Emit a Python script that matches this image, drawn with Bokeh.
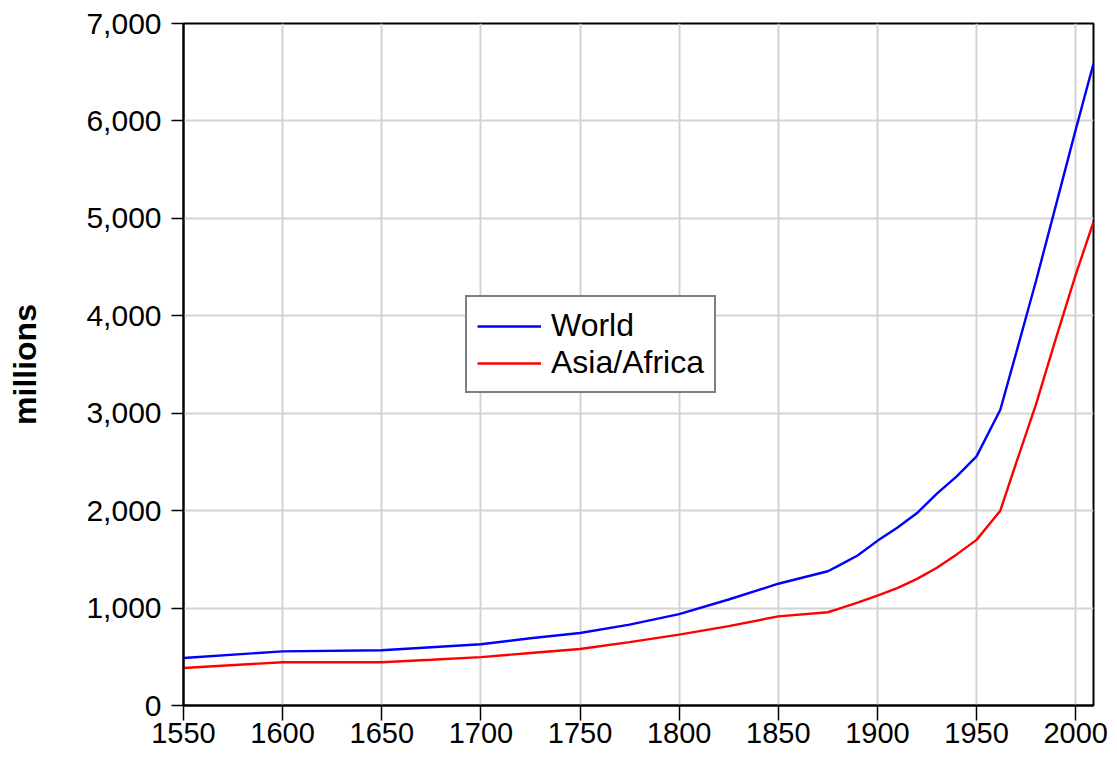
from bokeh.plotting import figure
from bokeh.models import (Range1d, Legend, LegendItem, NumeralTickFormatter,
                          FixedTicker)
from bokeh.embed import file_html
from bokeh.resources import INLINE

# ---- data (millions) ----
years = [1550, 1600, 1650, 1675, 1700, 1725, 1750, 1775, 1800, 1825, 1850,
         1875, 1880, 1890, 1900, 1910, 1920, 1930, 1940, 1950, 1962, 1970,
         1980, 1990, 2000, 2009]
world = [488, 556, 567, 598, 628, 690, 744, 830, 938, 1088, 1250,
         1378, 1430, 1540, 1690, 1825, 1975, 2174, 2352, 2557, 3036, 3620,
         4357, 5131, 5908, 6590]
asia_africa = [385, 444, 444, 470, 497, 539, 580, 650, 727, 815, 915,
               957, 990, 1055, 1128, 1205, 1300, 1414, 1551, 1700, 2000, 2490,
               3090, 3765, 4420, 4963]
x_ticks = [1550, 1600, 1650, 1700, 1750, 1800, 1850, 1900, 1950, 2000]
y_ticks = [0, 1000, 2000, 3000, 4000, 5000, 6000, 7000]

FONT = "Liberation Sans"

p = figure(width=1116, height=758,
           x_range=Range1d(1550, 2009), y_range=Range1d(0, 7000),
           output_backend="svg", toolbar_location=None,
           min_border_left=183, min_border_top=23, min_border_right=23,
           min_border_bottom=53)

p.background_fill_color = "white"
p.border_fill_color = "white"
p.outline_line_color = "black"
p.outline_line_width = 2

r1 = p.line(years, world, line_color="#0000FF", line_width=2.4)
r2 = p.line(years, asia_africa, line_color="#FF0000", line_width=2.4)

# axes
p.xaxis.ticker = FixedTicker(ticks=x_ticks)
p.yaxis.ticker = FixedTicker(ticks=y_ticks)
p.yaxis.formatter = NumeralTickFormatter(format="0,0")
for ax in (p.xaxis[0], p.yaxis[0]):
    ax.axis_line_color = "black"
    ax.axis_line_width = 2
    ax.major_tick_line_color = "black"
    ax.major_tick_line_width = 1.5
    ax.major_tick_in = 0
    ax.minor_tick_line_color = None
    ax.major_label_text_font = FONT
    ax.major_label_text_color = "black"
p.xaxis.major_label_text_font_size = "29px"
p.yaxis.major_label_text_font_size = "30px"
p.xaxis.major_tick_out = 15
p.xaxis.major_label_standoff = 2
p.yaxis.major_tick_out = 12
p.yaxis.major_label_standoff = 10

p.yaxis.axis_label = "millions"
p.yaxis.axis_label_text_font = FONT
p.yaxis.axis_label_text_font_style = "bold"
p.yaxis.axis_label_text_font_size = "32px"
p.yaxis.axis_label_text_color = "black"
p.yaxis.axis_label_standoff = 40

# grid
p.xgrid.ticker = FixedTicker(ticks=x_ticks[1:])
p.ygrid.ticker = FixedTicker(ticks=y_ticks[1:-1])
for g in (p.xgrid[0], p.ygrid[0]):
    g.grid_line_color = "#D3D3D3"
    g.grid_line_width = 2

legend = Legend(items=[LegendItem(label="World", renderers=[r1]),
                       LegendItem(label="Asia/Africa", renderers=[r2])],
                location=(282, 312))
legend.label_text_font = FONT
legend.label_text_font_size = "32px"
legend.label_text_color = "black"
legend.glyph_width = 64
legend.glyph_height = 34
legend.label_height = 34
legend.label_standoff = 10
legend.spacing = 0
legend.padding = 10
legend.margin = 0
legend.border_line_color = "black"
legend.border_line_width = 2
legend.background_fill_color = "white"
legend.background_fill_alpha = 1
p.add_layout(legend, "center")

open("out.html", "w").write(file_html(p, INLINE))
